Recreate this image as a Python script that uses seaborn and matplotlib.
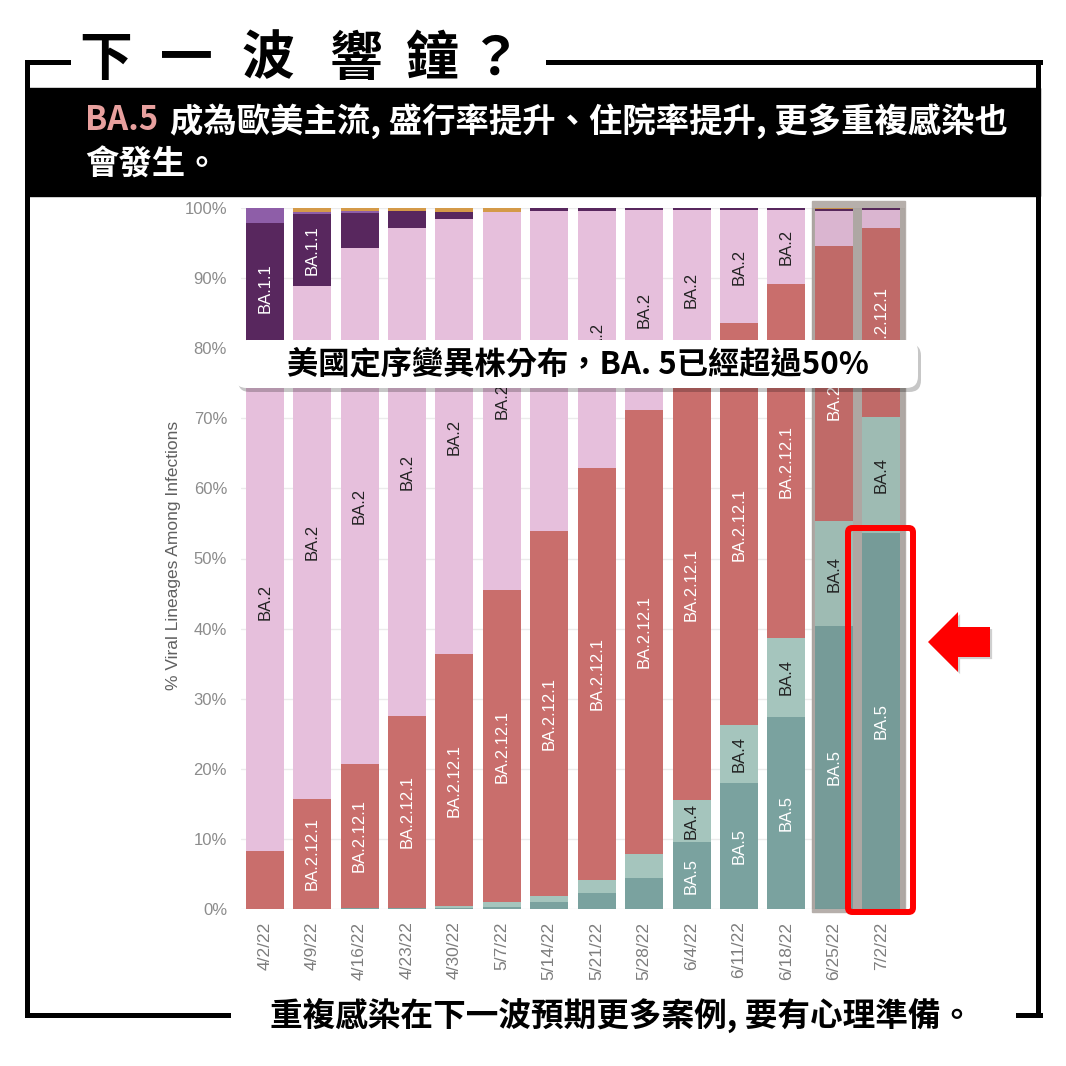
import numpy as np
import pandas as pd
import matplotlib
matplotlib.use('Agg')
import matplotlib.pyplot as plt
import seaborn as sns
from matplotlib.patches import Rectangle, FancyBboxPatch, Polygon
from matplotlib.lines import Line2D

# weekly share (%) of each lineage
weeks = ['4/2/22', '4/9/22', '4/16/22', '4/23/22', '4/30/22', '5/7/22', '5/14/22',
         '5/21/22', '5/28/22', '6/4/22', '6/11/22', '6/18/22', '6/25/22', '7/2/22']
ba5 = [0, 0, 0.1, 0.1, 0.2, 0.3, 1.0, 2.3, 4.4, 9.5, 18.0, 27.4, 40.4, 53.6]
ba4 = [0, 0, 0.1, 0.1, 0.2, 0.7, 0.9, 1.9, 3.5, 6.1, 8.2, 11.3, 14.9, 16.6]
ba2121 = [8.3, 15.7, 20.5, 27.3, 36.0, 44.5, 52.0, 58.7, 63.3, 61.4, 57.4, 50.4, 39.3, 27.0]
ba2 = [71.0, 73.2, 73.6, 69.6, 62.0, 54.0, 45.7, 36.7, 28.5, 22.7, 16.1, 10.6, 5.0, 2.5]
ba11 = [18.5, 10.2, 5.0, 2.5, 1.1, 0, 0.4, 0.4, 0.3, 0.3, 0.3, 0.3, 0.3, 0.3]
b11529 = [2.2, 0.4, 0.3, 0, 0, 0, 0, 0, 0, 0, 0, 0, 0, 0]
other = [0, 0.5, 0.4, 0.4, 0.5, 0.5, 0, 0, 0, 0, 0, 0, 0.1, 0]

lineages = ['BA.5', 'BA.4', 'BA.2.12.1', 'BA.2', 'BA.1.1', 'B.1.1.529', 'Other']
colors = {'BA.5': '#7aa29f', 'BA.4': '#a5c5bd', 'BA.2.12.1': '#c96e6c',
          'BA.2': '#e6bfdc', 'BA.1.1': '#58275e', 'B.1.1.529': '#8e5ea8',
          'Other': '#d49a48'}
label_color = {'BA.5': 'white', 'BA.4': '#222222', 'BA.2.12.1': 'white',
               'BA.2': '#222222', 'BA.1.1': 'white'}

df = pd.DataFrame({'week': weeks, 'BA.5': ba5, 'BA.4': ba4, 'BA.2.12.1': ba2121,
                   'BA.2': ba2, 'BA.1.1': ba11, 'B.1.1.529': b11529, 'Other': other})
cum = df[lineages].cumsum(axis=1)

sns.set_theme(style='white')
plt.rcParams['font.family'] = ['Liberation Sans', 'DejaVu Sans']
cjk = ['Noto Sans CJK TC', 'DejaVu Sans']

W = 1066
fig = plt.figure(figsize=(10.66, 10.66), dpi=100)


def fx(x):
    return x / W


def fy(y):
    return 1 - y / W


ax = fig.add_axes([fx(241), fy(909), 664 / W, 701 / W])

# gray highlight behind the two latest weeks
ax.add_patch(Rectangle((11.54, -0.45), 1.96, 101.5, color='#b6afab', zorder=0.6, clip_on=False))

# stacked bars: draw cumulative totals from the top layer down
for lin in reversed(lineages):
    sns.barplot(x=df['week'], y=cum[lin], color=colors[lin], saturation=1, width=0.8,
                linewidth=0, errorbar=None, ax=ax, zorder=1)

# slight dimming of the highlighted bars
ax.add_patch(Rectangle((11.54, 0), 1.96, 100, color='#4a3f3c', alpha=0.07, zorder=1.5))

# segment labels (skip the ones fully hidden behind the callout box)
box_lo, box_hi = 74.0, 81.2
for i in range(len(weeks)):
    for lin in ['BA.5', 'BA.4', 'BA.2.12.1', 'BA.2', 'BA.1.1']:
        h = df[lin][i]
        if h < 1.3 * len(lin):
            continue
        yc = cum[lin][i] - h / 2
        half = 0.6 * len(lin)
        if yc - half >= box_lo and yc + half <= box_hi:
            continue
        ax.text(i, yc, lin, rotation=90, ha='center', va='center',
                fontsize=12, color=label_color[lin], zorder=3)

ax.set_ylim(0, 100)
ax.set_yticks(range(0, 101, 10))
ax.set_yticklabels([f'{v}%' for v in range(0, 101, 10)])
ax.yaxis.grid(True, color='#ebebeb', lw=1)
ax.set_axisbelow(True)
ax.tick_params(axis='y', length=0, pad=10, labelsize=12, labelcolor='#8c8c8c')
ax.tick_params(axis='x', length=0, pad=9, labelsize=12.5, labelcolor='#7d7d7d', rotation=90)
ax.set_xlabel('')
ax.set_ylabel('% Viral Lineages Among Infections', fontsize=12.5, color='#606060')
ax.yaxis.set_label_coords(-0.09, 0.505)
for s in ax.spines.values():
    s.set_visible(False)

# frame
lw = 3.6
segs = [((27, 62), (68, 62)), ((548, 62), (1040, 62)), ((27, 62), (27, 1015)),
        ((1038, 62), (1038, 1015)), ((27, 1015), (228, 1015)), ((1018, 1015), (1040, 1015))]
for (x0, y0), (x1, y1) in segs:
    fig.add_artist(Line2D([fx(x0), fx(x1)], [fy(y0), fy(y1)], color='black', lw=lw,
                          solid_capstyle='projecting', transform=fig.transFigure))

# title
for ch, xc in zip(['下', '一', '波', '響', '鐘', '？'], [106, 186, 268, 355, 432, 495]):
    fig.text(fx(xc), fy(59), ch, family=cjk, fontsize=38, weight='bold',
             ha='center', va='center', color='black')

# black subtitle panel
fig.add_artist(Rectangle((fx(27), fy(196)), 1013 / W, 108 / W, color='black',
                         transform=fig.transFigure, zorder=1))
fig.text(fx(85), fy(121), 'BA.5', family=cjk, fontsize=23.5, weight='bold',
         color='#e8a09e', ha='left', va='center', zorder=2)
fig.text(fx(170), fy(121), '成為歐美主流, 盛行率提升、住院率提升, 更多重複感染也', family=cjk,
         fontsize=24, weight='bold', color='white', ha='left', va='center', zorder=2)
fig.text(fx(85), fy(165), '會發生。', family=cjk, fontsize=24, weight='bold',
         color='white', ha='left', va='center', zorder=2)

# callout box
fig.add_artist(FancyBboxPatch((fx(238), fy(392)), 683 / W, 48 / W,
                              boxstyle='round,pad=0,rounding_size=0.011', fc='#00000038',
                              ec='none', transform=fig.transFigure, zorder=2))
fig.add_artist(FancyBboxPatch((fx(235), fy(388)), 683 / W, 48 / W,
                              boxstyle='round,pad=0,rounding_size=0.011', fc='white',
                              ec='none', transform=fig.transFigure, zorder=2))
fig.text(fx(578), fy(364), '美國定序變異株分布，BA. 5已經超過50%', family=cjk, fontsize=22.5,
         weight='bold', color='black', ha='center', va='center', zorder=3)

# red highlight around 7/2
fig.add_artist(FancyBboxPatch((fx(848), fy(912)), 65 / W, 384 / W,
                              boxstyle='round,pad=0,rounding_size=0.004', fc='none',
                              ec='#ff0000', lw=4.3, transform=fig.transFigure, zorder=3))
arrow = [(928, 642), (958, 612), (958, 627), (990, 627), (990, 657), (958, 657), (958, 672)]
fig.add_artist(Polygon([(fx(x) + 0.002, fy(y) - 0.002) for x, y in arrow], closed=True,
                       fc='#00000030', ec='none', transform=fig.transFigure, zorder=3))
fig.add_artist(Polygon([(fx(x), fy(y)) for x, y in arrow], closed=True, fc='#ff0000',
                       ec='none', transform=fig.transFigure, zorder=3))

# bottom caption
fig.text(fx(622), fy(1015), '重複感染在下一波預期更多案例, 要有心理準備。', family=cjk,
         fontsize=23.5, weight='bold', color='black', ha='center', va='center', zorder=3)

fig.savefig('out.png', dpi=100, facecolor='white')
